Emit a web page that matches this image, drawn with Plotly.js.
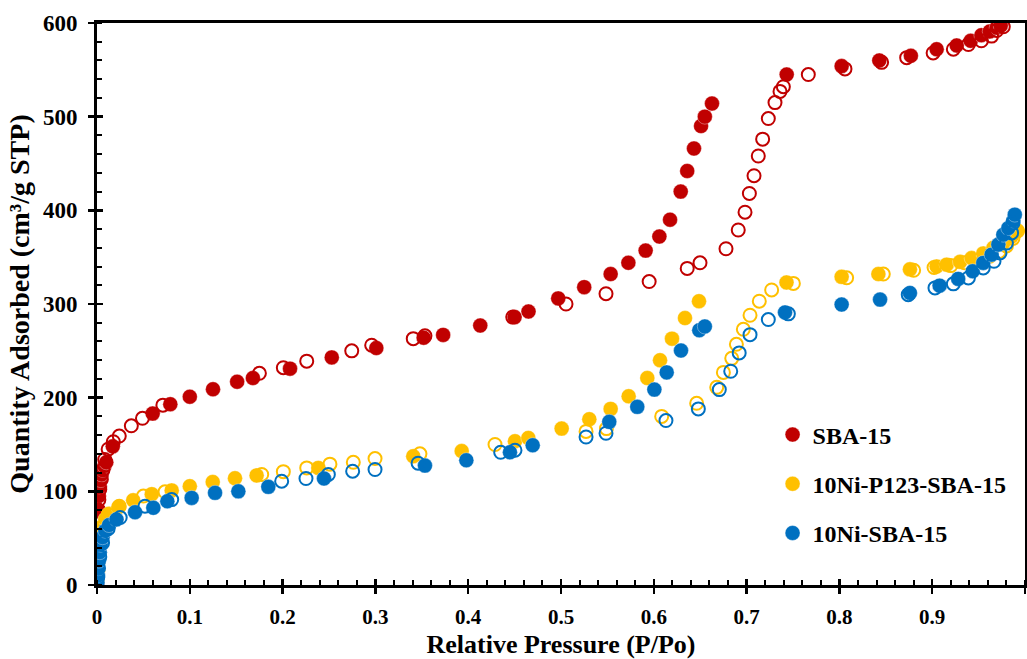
<!DOCTYPE html>
<html>
<head>
<meta charset="utf-8">
<script src="https://cdn.plot.ly/plotly-3.0.1.min.js"></script>
<style>html,body{margin:0;padding:0;background:#fff;}#chart{width:1027px;height:659px;}</style>
</head>
<body>
<div id="chart"></div>
<script>
// SBA-15
const sbaAdsX = [0.0005,0.001,0.0015,0.002,0.003,0.004,0.005,0.006,0.008,0.010,0.017,0.060,0.079,0.100,0.125,0.151,0.168,0.208,0.253,0.301,0.352,0.373,0.413,0.450,0.465,0.497,0.525,0.5535,0.5726,0.5912,0.606,0.6175,0.629,0.636,0.6433,0.6509,0.655,0.6627,0.7432,0.8024,0.843,0.877,0.9048,0.9264,0.9415,0.953,0.962,0.9695,0.9738];
const sbaAdsY = [2,50,80,95,105,112,118,123,127,131,148,183,193,201,209,217,221,231,243,253,264,267,277,286,292,306,318,332,344,357,372,390,420,442,466,490,500,514,545,554,560,565,572,576,581,587,591,595,597];
const sbaDesX = [0.9766,0.9695,0.964,0.953,0.939,0.9228,0.901,0.8725,0.8455,0.806,0.7665,0.7396,0.736,0.7306,0.7234,0.7173,0.7126,0.708,0.703,0.6983,0.691,0.6778,0.6498,0.636,0.595,0.5485,0.5054,0.448,0.3534,0.3408,0.296,0.2745,0.226,0.2008,0.175,0.071,0.049,0.037,0.024,0.0176,0.012,0.0083,0.0065,0.0047,0.003,0.002,0.0015,0.001,0.0008,0.0005];
const sbaDesY = [596,592,586,581,577,572,568,563,558,551,545,532,527,515,498,476,458,437,418,398,379,359,344,338,324,311,300,286,266,263,256,250,239,232,226,192,178,170,159,153,145,134,123,113,102,91,80,65,45,20];
// 10Ni-P123-SBA-15
const p123AdsX = [0.0005,0.001,0.0015,0.002,0.003,0.004,0.006,0.009,0.013,0.023,0.039,0.059,0.0805,0.1,0.1247,0.1487,0.172,0.2385,0.3408,0.393,0.4504,0.4648,0.5007,0.5305,0.5535,0.5729,0.593,0.6067,0.6196,0.6336,0.6487,0.743,0.8024,0.842,0.876,0.9048,0.9156,0.93,0.9425,0.955,0.966,0.9766,0.9856,0.991];
const p123AdsY = [5,15,25,35,45,55,63,70,76,83,90.5,97,101,105.5,110,114,117,125,137.5,143,153.5,157,167,177,188,201.5,221,240,263,285,303,323,329,332,337,340,342,345,349,354,360,365,372,379];
const p123DesX = [0.992,0.987,0.98,0.972,0.962,0.95,0.935,0.92,0.902,0.88,0.8473,0.8078,0.7504,0.727,0.7137,0.7037,0.6965,0.689,0.684,0.675,0.6678,0.6462,0.6085,0.549,0.527,0.4289,0.348,0.2996,0.2762,0.251,0.226,0.2008,0.1775,0.0733,0.05,0.024,0.012,0.006,0.003,0.0015,0.0008];
const p123DesY = [378,370,362,356,351,347,344,341,339,336,332,328,322,315,303,288,273,257,242,227,211,194,180,167,164,150,140,135,131,129,125,121,118,99.5,95,84,75,62,48,32,15];
// 10Ni-SBA-15
const niAdsX = [0.0005,0.001,0.0015,0.002,0.003,0.004,0.006,0.009,0.013,0.021,0.041,0.0607,0.0758,0.102,0.1272,0.1523,0.1846,0.2446,0.3534,0.398,0.445,0.4695,0.552,0.5822,0.6006,0.6139,0.6293,0.649,0.655,0.7414,0.8024,0.8438,0.876,0.908,0.928,0.9436,0.955,0.964,0.9713,0.9766,0.982,0.9874,0.989];
const niAdsY = [3,10,18,26,35,43,51,58,64,70,77.7,82.4,89.4,93,98.4,100,104.8,113.7,127.5,133.2,141.7,149.2,174.2,190.2,208.6,227,250.3,272,276,291,299.4,304.7,311.8,319.6,326.8,335,343.9,352.7,363.4,374,381,389,395.4];
const niDesX = [0.987,0.9856,0.98,0.973,0.9666,0.955,0.939,0.9228,0.903,0.8742,0.745,0.7234,0.7037,0.692,0.6829,0.6706,0.648,0.6131,0.5485,0.527,0.4504,0.435,0.346,0.2996,0.2755,0.2493,0.2252,0.199,0.0805,0.0517,0.025,0.012,0.006,0.003,0.0015,0.0008];
const niDesY = [386.6,375.9,365,354.5,345.6,338.5,327.8,321.5,317.2,310,289.5,283.4,267.3,247.8,228.2,208.6,188,175.6,162,158,143.9,141.7,130,123.3,121.5,118,113.7,110.8,91.2,84.1,72,60,45,30,18,8];

const seriesNames = ['SBA-15','10Ni-P123-SBA-15','10Ni-SBA-15'];
const colors = ['#C00000','#FFC000','#0070C0'];
const adsX = [sbaAdsX,p123AdsX,niAdsX], adsY=[sbaAdsY,p123AdsY,niAdsY];
const desX = [sbaDesX,p123DesX,niDesX], desY=[sbaDesY,p123DesY,niDesY];

const FONT = 'Liberation Serif, Times New Roman, serif';
const traces = [];
for (let i=0;i<3;i++){
  traces.push({x:adsX[i],y:adsY[i],type:'scatter',mode:'markers',name:seriesNames[i],legendgroup:'g'+i,
    marker:{symbol:'circle',size:15,color:colors[i],line:{width:0.6,color:'rgba(255,255,255,0.6)'}}});
  traces.push({x:desX[i],y:desY[i],type:'scatter',mode:'markers',name:seriesNames[i]+' des',legendgroup:'g'+i,showlegend:false,
    marker:{symbol:'circle-open',size:13,color:colors[i],line:{width:2,color:colors[i]}}});
}
// invisible trace to activate second axes (crossing ticks)
traces.push({x:[0],y:[0],xaxis:'x2',yaxis:'y2',mode:'markers',marker:{opacity:0},showlegend:false,hoverinfo:'skip'});

const layout = {
  width:1027,height:659,
  margin:{l:97,r:2,t:23,b:74},
  paper_bgcolor:'#fff',plot_bgcolor:'#fff',
  showlegend:true,
  legend:{x:0.728,y:0.307,xanchor:'left',yanchor:'top',traceorder:'grouped',tracegroupgap:15,
    font:{family:FONT,size:24,color:'#000',weight:700},bgcolor:'rgba(0,0,0,0)',itemwidth:30},
  xaxis:{range:[0,1],dtick:0.1,tick0:0,showgrid:false,zeroline:false,showline:true,linewidth:3,linecolor:'#000',mirror:true,
    ticks:'outside',ticklen:6,tickwidth:2.5,tickcolor:'#000',tickfont:{family:FONT,size:21,color:'#000',weight:700},ticklabelstandoff:5,
    minor:{dtick:0.02,ticks:'inside',ticklen:5,tickwidth:2,tickcolor:'#000',showgrid:false},
    title:{text:'Relative Pressure (P/Po)',font:{family:FONT,size:26,color:'#000',weight:700},standoff:8}},
  yaxis:{range:[0,600],dtick:100,tick0:0,showgrid:false,zeroline:false,showline:true,linewidth:3,linecolor:'#000',mirror:true,
    ticks:'outside',ticklen:6,tickwidth:2.5,tickcolor:'#000',tickfont:{family:FONT,size:23,color:'#000',weight:700},ticklabelstandoff:6,
    minor:{dtick:20,ticks:'inside',ticklen:5,tickwidth:2,tickcolor:'#000',showgrid:false},
    title:{text:'Quantity Adsorbed (cm³/g STP)',font:{family:FONT,size:28,color:'#000',weight:700},standoff:6}},
  xaxis2:{overlaying:'x',range:[0,1],dtick:0.1,tick0:0,showgrid:false,zeroline:false,showline:false,showticklabels:false,
    ticks:'inside',ticklen:6,tickwidth:2.5,tickcolor:'#000',side:'bottom'},
  yaxis2:{overlaying:'y',range:[0,600],dtick:100,tick0:0,showgrid:false,zeroline:false,showline:false,showticklabels:false,
    ticks:'inside',ticklen:6,tickwidth:2.5,tickcolor:'#000',side:'left'}
};
Plotly.newPlot('chart',traces,layout,{staticPlot:true,displayModeBar:false});
</script>
</body>
</html>
